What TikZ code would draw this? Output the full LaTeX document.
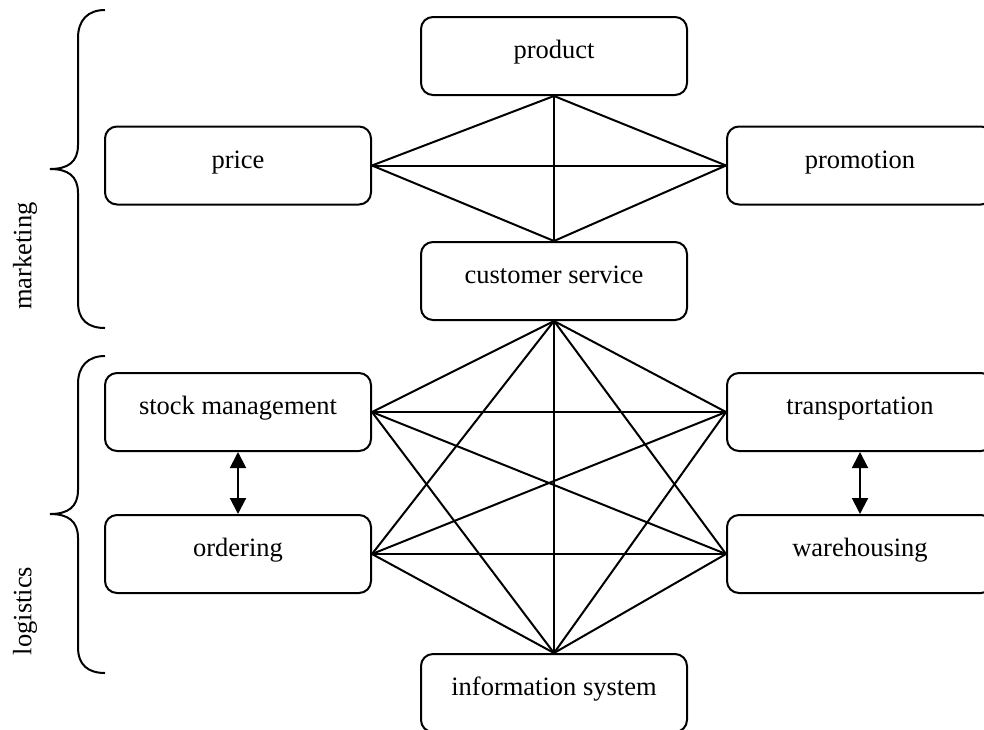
\documentclass[tikz,border=0pt]{standalone}
\usepackage{fontspec}
\setmainfont{Liberation Serif}
\usetikzlibrary{arrows.meta, positioning}

\begin{document}
\begin{tikzpicture}[x=0.5pt, y=-0.5pt, line width=1pt,
  >={Triangle[length=8pt, width=8pt]},
  box/.style={draw, rounded corners=6pt, minimum width=133pt,
    minimum height=39pt, text height=8pt, text depth=5.5pt,
    font=\fontsize{13.25}{16}\selectfont},
  side/.style={rotate=90, font=\fontsize{13.25}{16}\selectfont}]

\useasboundingbox (0,0) rectangle (984,729);

\node[box] (product) at (554,56) {product};
\node[box] (price) at (238,165.5) {price};
\node[box] (promotion) at (860,165.5) {promotion};
\node[box] (custserv) at (554,281) {customer service};

\node[box] (stock) at (238,412) {stock management};
\node[box] (transport) at (860,412) {transportation};
\node[box, below = 31pt of stock] (ordering) {ordering};
\node[box, below = 31pt of transport] (warehouse) {warehousing};
\node[box] (infosys) at (554,693) {information system};

\node[side] (mkt) at (25,256) {marketing};
\node[side] (logi) at (25,611) {logistics};

% marketing mix
\draw (product.south) -- (price.east);
\draw (product.south) -- (promotion.west);
\draw (product.south) -- (custserv.north);
\draw (price.east) -- (promotion.west);
\draw (price.east) -- (custserv.north);
\draw (promotion.west) -- (custserv.north);

% logistics mix
\draw (custserv.south) -- (stock.east);
\draw (custserv.south) -- (transport.west);
\draw (custserv.south) -- (ordering.east);
\draw (custserv.south) -- (warehouse.west);
\draw (custserv.south) -- (infosys.north);
\draw (stock.east) -- (transport.west);
\draw (stock.east) -- (warehouse.west);
\draw (stock.east) -- (infosys.north);
\draw (ordering.east) -- (transport.west);
\draw (ordering.east) -- (warehouse.west);
\draw (ordering.east) -- (infosys.north);
\draw (transport.west) -- (infosys.north);
\draw (warehouse.west) -- (infosys.north);

\draw[<->] (stock.south) -- (ordering.north);
\draw[<->] (transport.south) -- (warehouse.north);

% braces
\draw (105,10) .. controls (88,10) and (78,20) .. (78,38) -- (78,145)
  .. controls (78,162) and (68,169) .. (50,169)
  .. controls (68,169) and (78,176) .. (78,193) -- (78,302)
  .. controls (78,320) and (88,328) .. (105,328);
\draw (105,356) .. controls (88,356) and (78,366) .. (78,384) -- (78,490)
  .. controls (78,507) and (68,514) .. (50,514)
  .. controls (68,514) and (78,521) .. (78,538) -- (78,647)
  .. controls (78,665) and (88,673) .. (105,673);

\end{tikzpicture}
\end{document}
